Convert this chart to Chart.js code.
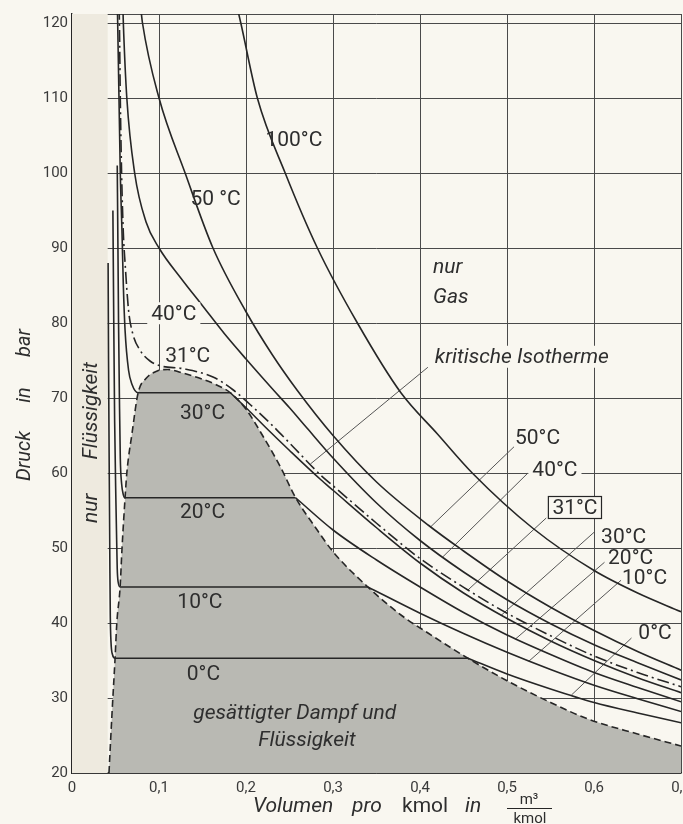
<!DOCTYPE html>
<html lang="de">
<head>
<meta charset="utf-8">
<title>CO2 – Isothermen im p-v-Diagramm</title>
<script src="https://cdn.jsdelivr.net/npm/chart.js@4.4.1/dist/chart.umd.min.js"></script>
<style>
  html, body { margin: 0; padding: 0; background: #f9f7f0; overflow: hidden; }
  #wrap { width: 697px; height: 824px; }
</style>
</head>
<body>
<div id="wrap"><canvas id="chart" width="697" height="824"></canvas></div>
<script>
/* p-v-Diagramm CO2 */

// ─── Achsen ───
const X_TICKS = [0, 0.1, 0.2, 0.3, 0.4, 0.5, 0.6, 0.7];
const Y_TICKS = [20, 30, 40, 50, 60, 70, 80, 90, 100, 110, 120];

// ─── Grenzkurve (Nassdampfgebiet) [v, p] ───
const DOME = [
  [0.0425, 20], [0.046, 28], [0.0495, 35.3], [0.0515, 40], [0.0553, 44.8], [0.0575, 50],
  [0.061, 56.7], [0.063, 60], [0.069, 65.3], [0.076, 70.7], [0.085, 72.6], [0.098, 73.6],
  [0.11, 73.8], [0.128, 73.3], [0.15, 72.5], [0.167, 71.7], [0.182, 70.7], [0.2, 68.5],
  [0.22, 64.8], [0.24, 60.7], [0.257, 56.7], [0.28, 52.7], [0.30, 49.5], [0.34, 44.8],
  [0.38, 40.9], [0.41, 38.6], [0.455, 35.3], [0.5, 32.3], [0.55, 29.4], [0.593, 27.2],
  [0.65, 25.2], [0.7, 23.6],
];

// ─── Isothermen: Flüssigkeit + Nassdampf, dann Gas [v, p] ───
const T0 = [
  [0.0415, 88], [0.042, 75], [0.0428, 60], [0.0435, 48], [0.044, 41], [0.0448, 37.5],
  [0.0465, 35.8], [0.0495, 35.3], [0.455, 35.3],
];
const T0_GAS = [[0.455, 35.3], [0.5, 33.2], [0.55, 31.2], [0.6, 29.4], [0.65, 28.0], [0.7, 26.7]];

const T10 = [
  [0.047, 95], [0.048, 80], [0.049, 67], [0.0505, 56], [0.0515, 50], [0.052, 47.2],
  [0.053, 45.5], [0.0553, 44.8], [0.34, 44.8],
];
const T10_GAS = [
  [0.34, 44.8], [0.4, 41.3], [0.45, 38.6], [0.5, 36.1], [0.55, 33.8], [0.6, 31.7],
  [0.65, 29.9], [0.7, 28.2],
];

const T20 = [
  [0.052, 101], [0.0528, 90], [0.0535, 80], [0.0545, 70], [0.0555, 62], [0.057, 58.6],
  [0.059, 57.1], [0.061, 56.7], [0.257, 56.7],
];
const T20_GAS = [
  [0.257, 56.7], [0.3, 52.4], [0.35, 48.4], [0.4, 44.8], [0.45, 41.4], [0.5, 38.4],
  [0.55, 35.8], [0.6, 33.4], [0.65, 31.4], [0.7, 29.5],
];

const T30 = [
  [0.0522, 122], [0.0525, 120], [0.054, 110], [0.0555, 100], [0.0575, 92], [0.059, 85],
  [0.061, 79], [0.065, 73.7], [0.069, 71.8], [0.076, 70.7], [0.182, 70.7],
];
const T30_GAS = [
  [0.182, 70.7], [0.2, 68.7], [0.225, 65.8], [0.25, 63.0], [0.286, 59.1], [0.3, 57.7],
  [0.35, 52.7], [0.4, 48.0], [0.45, 44.0], [0.5, 40.6], [0.55, 37.6], [0.6, 35.0],
  [0.65, 32.7], [0.7, 30.7],
];

const T31 = [
  [0.0542, 122], [0.0545, 120], [0.0555, 110], [0.057, 100], [0.059, 92], [0.061, 88],
  [0.065, 81.7], [0.07, 78.5], [0.078, 76.4], [0.09, 74.9], [0.101, 74.3], [0.128, 73.9],
  [0.162, 72.8], [0.185, 71.1], [0.205, 69.1], [0.228, 66.6], [0.25, 64.0], [0.286, 59.7],
  [0.3, 58.3], [0.35, 53.3], [0.4, 48.6], [0.455, 44.4], [0.5, 41.3], [0.55, 38.3],
  [0.6, 35.6], [0.65, 33.4], [0.7, 31.5],
];
const T40 = [
  [0.0585, 122], [0.059, 120], [0.063, 110], [0.072, 100], [0.085, 93.5], [0.1, 90],
  [0.125, 86], [0.15, 82.3], [0.175, 78.6], [0.2, 75.2], [0.232, 71], [0.25, 68.7],
  [0.27, 66.0], [0.3, 62.0], [0.35, 56.0], [0.4, 51.0], [0.45, 46.8], [0.5, 43.1],
  [0.55, 39.9], [0.6, 37.1], [0.65, 34.7], [0.7, 32.4],
];
const T50 = [
  [0.079, 122], [0.081, 120], [0.1, 110], [0.13, 100], [0.162, 90], [0.2, 81.5],
  [0.23, 75.8], [0.259, 71], [0.3, 65], [0.35, 58.8], [0.41, 53], [0.45, 49.6],
  [0.5, 45.6], [0.55, 42.1], [0.6, 39.0], [0.65, 36.2], [0.7, 33.7],
];
const T100 = [
  [0.19, 122], [0.194, 120], [0.213, 110], [0.245, 100], [0.282, 90], [0.328, 80],
  [0.378, 70.7], [0.42, 65.2], [0.46, 60.0], [0.53, 52.6], [0.6, 47.0], [0.65, 44.0],
  [0.7, 41.5],
];

// ─── Hinweislinien zu den Beschriftungen ───
const LEADERS = [
  [[0.412, 52.8], [0.508, 63.5]],
  [[0.426, 48.8], [0.524, 60.0]],
  [[0.455, 44.4], [0.545, 54.0]],
  [[0.493, 41.0], [0.600, 52.1]],
  [[0.510, 37.9], [0.612, 48.1]],
  [[0.525, 34.9], [0.631, 45.7]],
  [[0.574, 30.4], [0.643, 38.0]],
  [[0.274, 61.2], [0.409, 74.1]],
];

// ─── Beschriftungen ───
const LABELS = [
  { text: '100°C', x: 0.255, y: 104.4 },
  { text: '50 °C', x: 0.165, y: 96.6 },
  { text: '40°C', x: 0.117, y: 81.3, bg: true },
  { text: '31°C', x: 0.133, y: 75.7 },
  { text: '30°C', x: 0.150, y: 68.0 },
  { text: '20°C', x: 0.150, y: 54.8 },
  { text: '10°C', x: 0.147, y: 42.8 },
  { text: '0°C', x: 0.151, y: 33.3 },
  { text: '50°C', x: 0.535, y: 64.7 },
  { text: '40°C', x: 0.555, y: 60.4, bg: true },
  { text: '31°C', x: 0.578, y: 55.4, box: true },
  { text: '30°C', x: 0.634, y: 51.5 },
  { text: '20°C', x: 0.642, y: 48.7 },
  { text: '10°C', x: 0.658, y: 46.0 },
  { text: '0°C', x: 0.670, y: 38.7 },
  { text: 'nur', x: 0.415, y: 87.5, italic: true, left: true },
  { text: 'Gas', x: 0.415, y: 83.5, italic: true, left: true },
  { text: 'kritische Isotherme', x: 0.517, y: 75.5, italic: true, bg: true },
  { text: 'gesättigter Dampf und', x: 0.256, y: 28.0, italic: true },
  { text: 'Flüssigkeit', x: 0.270, y: 24.4, italic: true },
  { text: 'Flüssigkeit', x: 0.022, y: 68.3, italic: true, rot: true },
  { text: 'nur', x: 0.022, y: 55.3, italic: true, rot: true },
];

const INK = '#262626';
const TEXT = '#2e2e2e';
const GRID = '#4a4a4a';
const PAPER = '#f9f7f0';
const DOME_FILL = '#b9b9b3';
const LIQUID_TINT = '#eeeadf';
const LIQUID_EDGE = 0.041;

const pts = (arr) => arr.map(([x, y]) => ({ x, y }));

function curve(data, extra) {
  return Object.assign({
    data: pts(data),
    showLine: true,
    borderColor: INK,
    borderWidth: 1.6,
    pointRadius: 0,
    fill: false,
    cubicInterpolationMode: 'monotone',
  }, extra);
}

const datasets = [
  curve(DOME, { label: 'Grenzkurve', fill: 'start', backgroundColor: DOME_FILL, borderDash: [7, 4], order: 5 }),
  curve(T0, { label: '0 °C' }),
  curve(T0_GAS, { label: '0 °C Gas' }),
  curve(T10, { label: '10 °C' }),
  curve(T10_GAS, { label: '10 °C Gas' }),
  curve(T20, { label: '20 °C' }),
  curve(T20_GAS, { label: '20 °C Gas' }),
  curve(T30, { label: '30 °C' }),
  curve(T30_GAS, { label: '30 °C Gas' }),
  curve(T31, { label: '31 °C', borderDash: [12, 4, 2, 4] }),
  curve(T40, { label: '40 °C' }),
  curve(T50, { label: '50 °C' }),
  curve(T100, { label: '100 °C' }),
  ...LEADERS.map((l) => curve(l, { borderColor: '#555', borderWidth: 1, tension: 0, cubicInterpolationMode: 'default' })),
];

// ─── Plugin: Flüssigkeitsbereich, Texte, Achsentitel ───
const annotate = {
  id: 'annotate',
  beforeDatasetsDraw(chart) {
    const { ctx, chartArea: a, scales: { x } } = chart;
    ctx.save();
    ctx.fillStyle = LIQUID_TINT;
    ctx.fillRect(a.left, a.top, x.getPixelForValue(LIQUID_EDGE) - a.left, a.bottom - a.top);
    ctx.restore();
  },
  afterDraw(chart) {
    const { ctx, chartArea: a, scales: { x, y } } = chart;
    ctx.save();
    ctx.textBaseline = 'middle';
    ctx.textAlign = 'left';

    LABELS.forEach((l) => {
      ctx.font = `${l.italic ? 'italic ' : ''}21px Roboto`;
      const w = ctx.measureText(l.text).width;
      const left = l.left ? 0 : -w / 2;
      ctx.save();
      ctx.translate(x.getPixelForValue(l.x), y.getPixelForValue(l.y));
      if (l.rot) ctx.rotate(-Math.PI / 2);
      if (l.bg || l.box) {
        ctx.fillStyle = PAPER;
        ctx.fillRect(left - 4, -11, w + 8, 22);
      }
      if (l.box) {
        ctx.strokeStyle = INK;
        ctx.lineWidth = 1.2;
        ctx.strokeRect(left - 4, -11, w + 8, 22);
      }
      ctx.fillStyle = TEXT;
      ctx.fillText(l.text, left, 1);
      ctx.restore();
    });

    // y-Titel
    ctx.save();
    ctx.fillStyle = TEXT;
    ctx.font = 'italic 20px Roboto';
    ctx.textAlign = 'center';
    [['Druck', 456], ['in', 395], ['bar', 343]].forEach(([t, py]) => {
      ctx.save();
      ctx.translate(25, py);
      ctx.rotate(-Math.PI / 2);
      ctx.fillText(t, 0, 0);
      ctx.restore();
    });
    ctx.restore();

    // x-Titel
    const base = a.bottom + 39;
    ctx.textBaseline = 'alphabetic';
    ctx.fillStyle = TEXT;
    ctx.textAlign = 'left';
    ctx.font = 'italic 21px Roboto';
    ctx.fillText('Volumen', 253, base);
    ctx.fillText('pro', 352, base);
    ctx.fillText('in', 465, base);
    ctx.font = '21px Roboto';
    ctx.fillText('kmol', 402, base);
    ctx.textAlign = 'center';
    ctx.font = '15px Roboto';
    ctx.fillText('m³', 529, a.bottom + 31);
    ctx.fillText('kmol', 530, a.bottom + 50);
    ctx.strokeStyle = INK;
    ctx.lineWidth = 1;
    ctx.beginPath();
    ctx.moveTo(507, a.bottom + 35.5);
    ctx.lineTo(552, a.bottom + 35.5);
    ctx.stroke();
    ctx.restore();
  },
};

new Chart(document.getElementById('chart'), {
  type: 'scatter',
  data: { datasets },
  options: {
    responsive: false,
    animation: false,
    events: [],
    layout: { padding: { top: 14, left: 0, right: 0, bottom: 0 } },
    plugins: { legend: { display: false }, tooltip: { enabled: false } },
    scales: {
      x: {
        type: 'linear',
        min: 0,
        max: 0.7,
        z: 1,
        afterBuildTicks: (s) => { s.ticks = X_TICKS.map((v) => ({ value: v })); },
        afterFit: (s) => { s.height = 51; },
        grid: { color: GRID, lineWidth: 1, drawTicks: false },
        border: { color: INK, width: 1.4 },
        ticks: {
          padding: 6,
          color: '#3a3a3a',
          autoSkip: false,
          maxRotation: 0,
          font: { family: 'Roboto', size: 15 },
          callback: (v) => (v === 0 ? '0' : Number(v).toFixed(1).replace('.', ',')),
        },
      },
      y: {
        type: 'linear',
        min: 20,
        max: 121.2,
        z: 1,
        afterBuildTicks: (s) => { s.ticks = [...Y_TICKS, 121.2].map((v) => ({ value: v })); },
        afterFit: (s) => { s.width = 72; },
        grid: { color: GRID, lineWidth: 1, drawTicks: false },
        border: { color: INK, width: 1.4 },
        ticks: {
          padding: 4,
          color: '#3a3a3a',
          autoSkip: false,
          font: { family: 'Roboto', size: 15 },
          callback: (v) => (v > 120 ? '' : v),
        },
      },
    },
  },
  plugins: [annotate],
});
</script>
</body>
</html>
